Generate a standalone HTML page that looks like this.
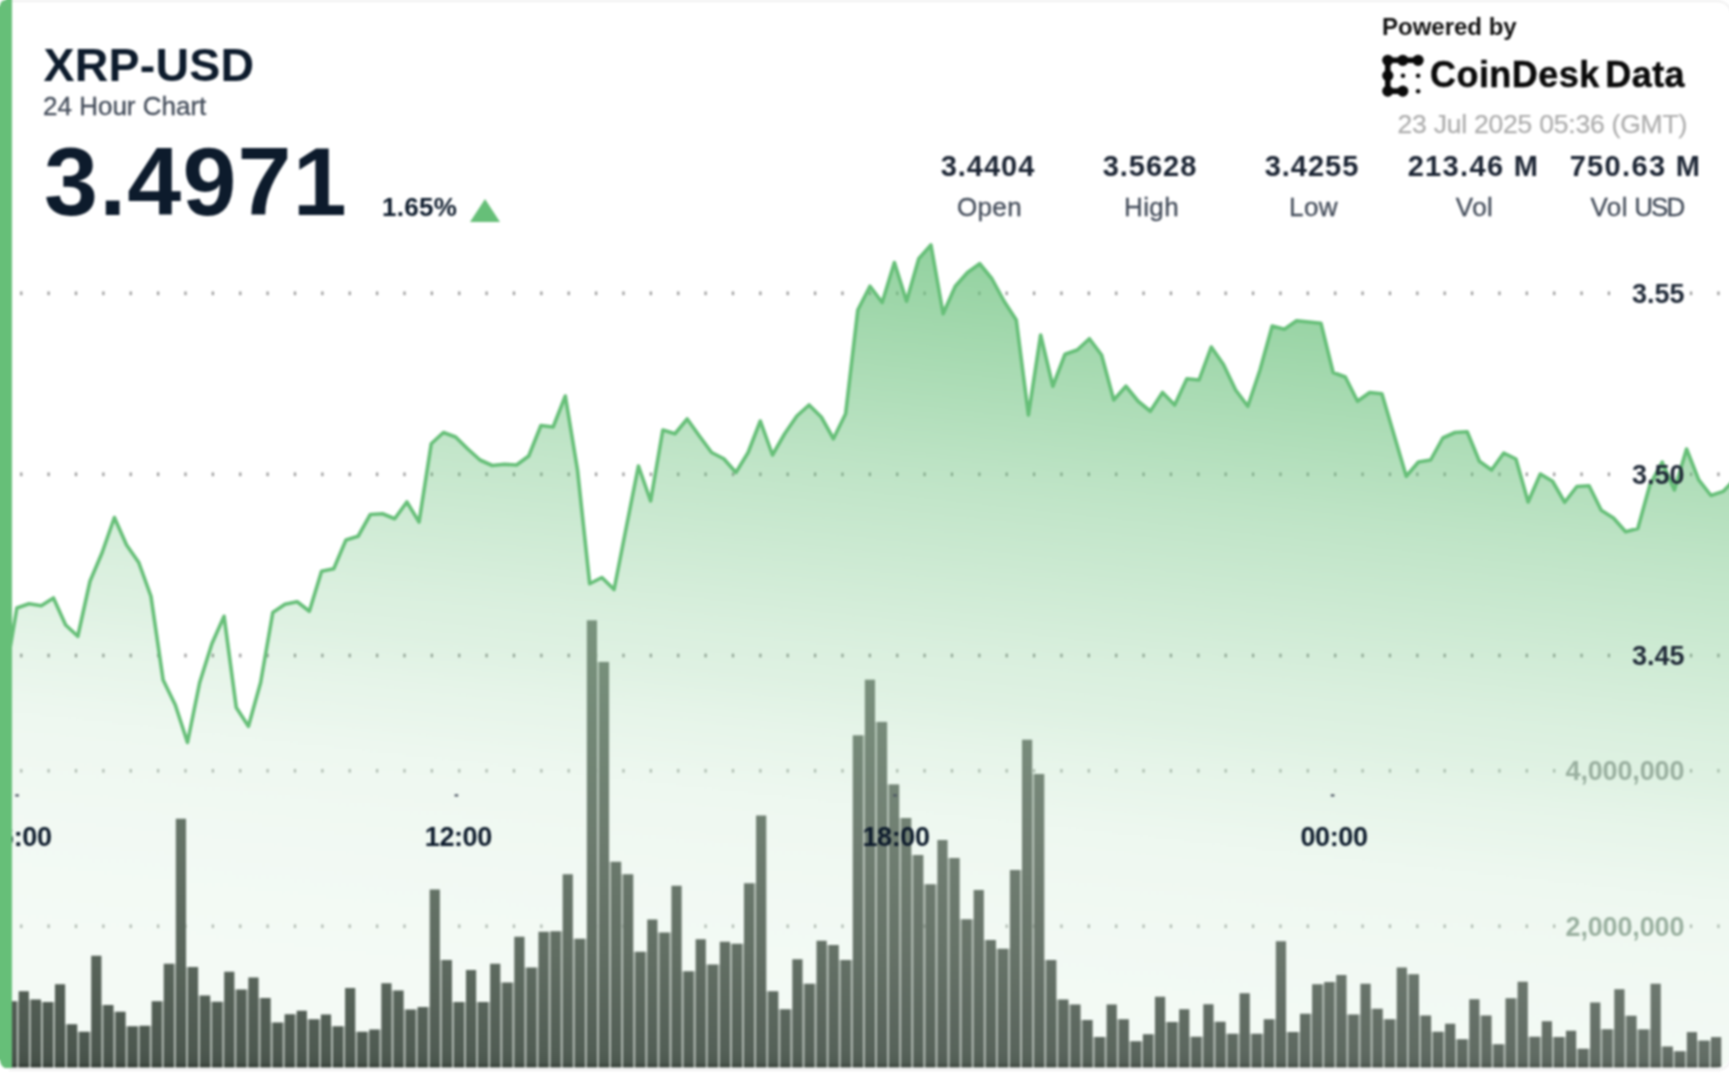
<!DOCTYPE html>
<html><head><meta charset="utf-8"><title>XRP-USD 24 Hour Chart</title>
<style>
html,body{margin:0;padding:0;background:#fff;}
body{width:1729px;height:1080px;position:relative;overflow:hidden;font-family:"Liberation Sans","DejaVu Sans",sans-serif;color:#0d1b2c;}
#wrap{position:absolute;left:0;top:0;width:1740px;height:1080px;filter:blur(1.15px);}
#card{position:absolute;left:0;top:0;width:1732px;height:1068px;border-radius:8px 15px 17px 9px;overflow:hidden;background:#fff;}
.t{position:absolute;white-space:nowrap;line-height:1;transform-origin:0 0;}
.b{font-weight:bold;}
.c{text-align:center;}
</style></head><body><div id="wrap"><div id="card">
<svg width="1745" height="1080" viewBox="0 0 1745 1080" style="position:absolute;left:0;top:0">
<defs>
<linearGradient id="ag" gradientUnits="userSpaceOnUse" x1="1460" y1="250" x2="1367.62" y2="1089.84">
<stop offset="0.0000" stop-color="#66bf78" stop-opacity="0.775"/>
<stop offset="0.1376" stop-color="#66bf78" stop-opacity="0.63"/>
<stop offset="0.3235" stop-color="#66bf78" stop-opacity="0.43"/>
<stop offset="0.3553" stop-color="#66bf78" stop-opacity="0.4"/>
<stop offset="0.5435" stop-color="#66bf78" stop-opacity="0.24"/>
<stop offset="0.5941" stop-color="#66bf78" stop-opacity="0.21"/>
<stop offset="0.6471" stop-color="#66bf78" stop-opacity="0.163"/>
<stop offset="0.6965" stop-color="#66bf78" stop-opacity="0.135"/>
<stop offset="0.7247" stop-color="#66bf78" stop-opacity="0.115"/>
<stop offset="0.7553" stop-color="#66bf78" stop-opacity="0.105"/>
<stop offset="0.8612" stop-color="#66bf78" stop-opacity="0.085"/>
<stop offset="1.0000" stop-color="#66bf78" stop-opacity="0.07"/>
</linearGradient>
<linearGradient id="bg" gradientUnits="userSpaceOnUse" x1="0" y1="620" x2="0" y2="1067.5">
<stop offset="0.0000" stop-color="rgb(122,148,126)"/>
<stop offset="0.2793" stop-color="rgb(114,134,117)"/>
<stop offset="0.4961" stop-color="rgb(108,123,110)"/>
<stop offset="0.7419" stop-color="rgb(97,110,99)"/>
<stop offset="0.9609" stop-color="rgb(82,94,85)"/>
<stop offset="0.9899" stop-color="rgb(76,88,79)"/>
<stop offset="0.9944" stop-color="rgb(62,72,64)"/>
<stop offset="1.0000" stop-color="rgb(62,72,64)"/>
</linearGradient>
<linearGradient id="hg" gradientUnits="userSpaceOnUse" x1="0" y1="0" x2="1729" y2="0">
<stop offset="0" stop-color="#000" stop-opacity="0.10"/>
<stop offset="0.347" stop-color="#000" stop-opacity="0"/>
<stop offset="0.347" stop-color="#fff" stop-opacity="0"/>
<stop offset="1" stop-color="#fff" stop-opacity="0.11"/>
</linearGradient>
</defs>
<g fill="#969696"><rect x="20.15" y="291.50" width="2.2" height="3.6"/><rect x="47.52" y="291.50" width="2.2" height="3.6"/><rect x="74.90" y="291.50" width="2.2" height="3.6"/><rect x="102.27" y="291.50" width="2.2" height="3.6"/><rect x="129.65" y="291.50" width="2.2" height="3.6"/><rect x="157.02" y="291.50" width="2.2" height="3.6"/><rect x="184.39" y="291.50" width="2.2" height="3.6"/><rect x="211.77" y="291.50" width="2.2" height="3.6"/><rect x="239.14" y="291.50" width="2.2" height="3.6"/><rect x="266.52" y="291.50" width="2.2" height="3.6"/><rect x="293.89" y="291.50" width="2.2" height="3.6"/><rect x="321.26" y="291.50" width="2.2" height="3.6"/><rect x="348.64" y="291.50" width="2.2" height="3.6"/><rect x="376.01" y="291.50" width="2.2" height="3.6"/><rect x="403.39" y="291.50" width="2.2" height="3.6"/><rect x="430.76" y="291.50" width="2.2" height="3.6"/><rect x="458.13" y="291.50" width="2.2" height="3.6"/><rect x="485.51" y="291.50" width="2.2" height="3.6"/><rect x="512.88" y="291.50" width="2.2" height="3.6"/><rect x="540.26" y="291.50" width="2.2" height="3.6"/><rect x="567.63" y="291.50" width="2.2" height="3.6"/><rect x="595.00" y="291.50" width="2.2" height="3.6"/><rect x="622.38" y="291.50" width="2.2" height="3.6"/><rect x="649.75" y="291.50" width="2.2" height="3.6"/><rect x="677.13" y="291.50" width="2.2" height="3.6"/><rect x="704.50" y="291.50" width="2.2" height="3.6"/><rect x="731.87" y="291.50" width="2.2" height="3.6"/><rect x="759.25" y="291.50" width="2.2" height="3.6"/><rect x="786.62" y="291.50" width="2.2" height="3.6"/><rect x="814.00" y="291.50" width="2.2" height="3.6"/><rect x="841.37" y="291.50" width="2.2" height="3.6"/><rect x="868.74" y="291.50" width="2.2" height="3.6"/><rect x="896.12" y="291.50" width="2.2" height="3.6"/><rect x="923.49" y="291.50" width="2.2" height="3.6"/><rect x="950.87" y="291.50" width="2.2" height="3.6"/><rect x="978.24" y="291.50" width="2.2" height="3.6"/><rect x="1005.61" y="291.50" width="2.2" height="3.6"/><rect x="1032.99" y="291.50" width="2.2" height="3.6"/><rect x="1060.36" y="291.50" width="2.2" height="3.6"/><rect x="1087.74" y="291.50" width="2.2" height="3.6"/><rect x="1115.11" y="291.50" width="2.2" height="3.6"/><rect x="1142.48" y="291.50" width="2.2" height="3.6"/><rect x="1169.86" y="291.50" width="2.2" height="3.6"/><rect x="1197.23" y="291.50" width="2.2" height="3.6"/><rect x="1224.61" y="291.50" width="2.2" height="3.6"/><rect x="1251.98" y="291.50" width="2.2" height="3.6"/><rect x="1279.35" y="291.50" width="2.2" height="3.6"/><rect x="1306.73" y="291.50" width="2.2" height="3.6"/><rect x="1334.10" y="291.50" width="2.2" height="3.6"/><rect x="1361.48" y="291.50" width="2.2" height="3.6"/><rect x="1388.85" y="291.50" width="2.2" height="3.6"/><rect x="1416.22" y="291.50" width="2.2" height="3.6"/><rect x="1443.60" y="291.50" width="2.2" height="3.6"/><rect x="1470.97" y="291.50" width="2.2" height="3.6"/><rect x="1498.35" y="291.50" width="2.2" height="3.6"/><rect x="1525.72" y="291.50" width="2.2" height="3.6"/><rect x="1553.09" y="291.50" width="2.2" height="3.6"/><rect x="1580.47" y="291.50" width="2.2" height="3.6"/><rect x="1607.84" y="291.50" width="2.2" height="3.6"/><rect x="1689.96" y="291.50" width="2.2" height="3.6"/><rect x="1717.34" y="291.50" width="2.2" height="3.6"/><rect x="20.15" y="472.50" width="2.2" height="3.6"/><rect x="47.52" y="472.50" width="2.2" height="3.6"/><rect x="74.90" y="472.50" width="2.2" height="3.6"/><rect x="102.27" y="472.50" width="2.2" height="3.6"/><rect x="129.65" y="472.50" width="2.2" height="3.6"/><rect x="157.02" y="472.50" width="2.2" height="3.6"/><rect x="184.39" y="472.50" width="2.2" height="3.6"/><rect x="211.77" y="472.50" width="2.2" height="3.6"/><rect x="239.14" y="472.50" width="2.2" height="3.6"/><rect x="266.52" y="472.50" width="2.2" height="3.6"/><rect x="293.89" y="472.50" width="2.2" height="3.6"/><rect x="321.26" y="472.50" width="2.2" height="3.6"/><rect x="348.64" y="472.50" width="2.2" height="3.6"/><rect x="376.01" y="472.50" width="2.2" height="3.6"/><rect x="403.39" y="472.50" width="2.2" height="3.6"/><rect x="430.76" y="472.50" width="2.2" height="3.6"/><rect x="458.13" y="472.50" width="2.2" height="3.6"/><rect x="485.51" y="472.50" width="2.2" height="3.6"/><rect x="512.88" y="472.50" width="2.2" height="3.6"/><rect x="540.26" y="472.50" width="2.2" height="3.6"/><rect x="567.63" y="472.50" width="2.2" height="3.6"/><rect x="595.00" y="472.50" width="2.2" height="3.6"/><rect x="622.38" y="472.50" width="2.2" height="3.6"/><rect x="649.75" y="472.50" width="2.2" height="3.6"/><rect x="677.13" y="472.50" width="2.2" height="3.6"/><rect x="704.50" y="472.50" width="2.2" height="3.6"/><rect x="731.87" y="472.50" width="2.2" height="3.6"/><rect x="759.25" y="472.50" width="2.2" height="3.6"/><rect x="786.62" y="472.50" width="2.2" height="3.6"/><rect x="814.00" y="472.50" width="2.2" height="3.6"/><rect x="841.37" y="472.50" width="2.2" height="3.6"/><rect x="868.74" y="472.50" width="2.2" height="3.6"/><rect x="896.12" y="472.50" width="2.2" height="3.6"/><rect x="923.49" y="472.50" width="2.2" height="3.6"/><rect x="950.87" y="472.50" width="2.2" height="3.6"/><rect x="978.24" y="472.50" width="2.2" height="3.6"/><rect x="1005.61" y="472.50" width="2.2" height="3.6"/><rect x="1032.99" y="472.50" width="2.2" height="3.6"/><rect x="1060.36" y="472.50" width="2.2" height="3.6"/><rect x="1087.74" y="472.50" width="2.2" height="3.6"/><rect x="1115.11" y="472.50" width="2.2" height="3.6"/><rect x="1142.48" y="472.50" width="2.2" height="3.6"/><rect x="1169.86" y="472.50" width="2.2" height="3.6"/><rect x="1197.23" y="472.50" width="2.2" height="3.6"/><rect x="1224.61" y="472.50" width="2.2" height="3.6"/><rect x="1251.98" y="472.50" width="2.2" height="3.6"/><rect x="1279.35" y="472.50" width="2.2" height="3.6"/><rect x="1306.73" y="472.50" width="2.2" height="3.6"/><rect x="1334.10" y="472.50" width="2.2" height="3.6"/><rect x="1361.48" y="472.50" width="2.2" height="3.6"/><rect x="1388.85" y="472.50" width="2.2" height="3.6"/><rect x="1416.22" y="472.50" width="2.2" height="3.6"/><rect x="1443.60" y="472.50" width="2.2" height="3.6"/><rect x="1470.97" y="472.50" width="2.2" height="3.6"/><rect x="1498.35" y="472.50" width="2.2" height="3.6"/><rect x="1525.72" y="472.50" width="2.2" height="3.6"/><rect x="1553.09" y="472.50" width="2.2" height="3.6"/><rect x="1580.47" y="472.50" width="2.2" height="3.6"/><rect x="1607.84" y="472.50" width="2.2" height="3.6"/><rect x="1689.96" y="472.50" width="2.2" height="3.6"/><rect x="1717.34" y="472.50" width="2.2" height="3.6"/><rect x="20.15" y="653.70" width="2.2" height="3.6"/><rect x="47.52" y="653.70" width="2.2" height="3.6"/><rect x="74.90" y="653.70" width="2.2" height="3.6"/><rect x="102.27" y="653.70" width="2.2" height="3.6"/><rect x="129.65" y="653.70" width="2.2" height="3.6"/><rect x="157.02" y="653.70" width="2.2" height="3.6"/><rect x="184.39" y="653.70" width="2.2" height="3.6"/><rect x="211.77" y="653.70" width="2.2" height="3.6"/><rect x="239.14" y="653.70" width="2.2" height="3.6"/><rect x="266.52" y="653.70" width="2.2" height="3.6"/><rect x="293.89" y="653.70" width="2.2" height="3.6"/><rect x="321.26" y="653.70" width="2.2" height="3.6"/><rect x="348.64" y="653.70" width="2.2" height="3.6"/><rect x="376.01" y="653.70" width="2.2" height="3.6"/><rect x="403.39" y="653.70" width="2.2" height="3.6"/><rect x="430.76" y="653.70" width="2.2" height="3.6"/><rect x="458.13" y="653.70" width="2.2" height="3.6"/><rect x="485.51" y="653.70" width="2.2" height="3.6"/><rect x="512.88" y="653.70" width="2.2" height="3.6"/><rect x="540.26" y="653.70" width="2.2" height="3.6"/><rect x="567.63" y="653.70" width="2.2" height="3.6"/><rect x="595.00" y="653.70" width="2.2" height="3.6"/><rect x="622.38" y="653.70" width="2.2" height="3.6"/><rect x="649.75" y="653.70" width="2.2" height="3.6"/><rect x="677.13" y="653.70" width="2.2" height="3.6"/><rect x="704.50" y="653.70" width="2.2" height="3.6"/><rect x="731.87" y="653.70" width="2.2" height="3.6"/><rect x="759.25" y="653.70" width="2.2" height="3.6"/><rect x="786.62" y="653.70" width="2.2" height="3.6"/><rect x="814.00" y="653.70" width="2.2" height="3.6"/><rect x="841.37" y="653.70" width="2.2" height="3.6"/><rect x="868.74" y="653.70" width="2.2" height="3.6"/><rect x="896.12" y="653.70" width="2.2" height="3.6"/><rect x="923.49" y="653.70" width="2.2" height="3.6"/><rect x="950.87" y="653.70" width="2.2" height="3.6"/><rect x="978.24" y="653.70" width="2.2" height="3.6"/><rect x="1005.61" y="653.70" width="2.2" height="3.6"/><rect x="1032.99" y="653.70" width="2.2" height="3.6"/><rect x="1060.36" y="653.70" width="2.2" height="3.6"/><rect x="1087.74" y="653.70" width="2.2" height="3.6"/><rect x="1115.11" y="653.70" width="2.2" height="3.6"/><rect x="1142.48" y="653.70" width="2.2" height="3.6"/><rect x="1169.86" y="653.70" width="2.2" height="3.6"/><rect x="1197.23" y="653.70" width="2.2" height="3.6"/><rect x="1224.61" y="653.70" width="2.2" height="3.6"/><rect x="1251.98" y="653.70" width="2.2" height="3.6"/><rect x="1279.35" y="653.70" width="2.2" height="3.6"/><rect x="1306.73" y="653.70" width="2.2" height="3.6"/><rect x="1334.10" y="653.70" width="2.2" height="3.6"/><rect x="1361.48" y="653.70" width="2.2" height="3.6"/><rect x="1388.85" y="653.70" width="2.2" height="3.6"/><rect x="1416.22" y="653.70" width="2.2" height="3.6"/><rect x="1443.60" y="653.70" width="2.2" height="3.6"/><rect x="1470.97" y="653.70" width="2.2" height="3.6"/><rect x="1498.35" y="653.70" width="2.2" height="3.6"/><rect x="1525.72" y="653.70" width="2.2" height="3.6"/><rect x="1553.09" y="653.70" width="2.2" height="3.6"/><rect x="1580.47" y="653.70" width="2.2" height="3.6"/><rect x="1607.84" y="653.70" width="2.2" height="3.6"/><rect x="1689.96" y="653.70" width="2.2" height="3.6"/><rect x="1717.34" y="653.70" width="2.2" height="3.6"/></g><g fill="#b4b8b4"><rect x="20.15" y="769.00" width="2.2" height="3.6"/><rect x="47.52" y="769.00" width="2.2" height="3.6"/><rect x="74.90" y="769.00" width="2.2" height="3.6"/><rect x="102.27" y="769.00" width="2.2" height="3.6"/><rect x="129.65" y="769.00" width="2.2" height="3.6"/><rect x="157.02" y="769.00" width="2.2" height="3.6"/><rect x="184.39" y="769.00" width="2.2" height="3.6"/><rect x="211.77" y="769.00" width="2.2" height="3.6"/><rect x="239.14" y="769.00" width="2.2" height="3.6"/><rect x="266.52" y="769.00" width="2.2" height="3.6"/><rect x="293.89" y="769.00" width="2.2" height="3.6"/><rect x="321.26" y="769.00" width="2.2" height="3.6"/><rect x="348.64" y="769.00" width="2.2" height="3.6"/><rect x="376.01" y="769.00" width="2.2" height="3.6"/><rect x="403.39" y="769.00" width="2.2" height="3.6"/><rect x="430.76" y="769.00" width="2.2" height="3.6"/><rect x="458.13" y="769.00" width="2.2" height="3.6"/><rect x="485.51" y="769.00" width="2.2" height="3.6"/><rect x="512.88" y="769.00" width="2.2" height="3.6"/><rect x="540.26" y="769.00" width="2.2" height="3.6"/><rect x="567.63" y="769.00" width="2.2" height="3.6"/><rect x="595.00" y="769.00" width="2.2" height="3.6"/><rect x="622.38" y="769.00" width="2.2" height="3.6"/><rect x="649.75" y="769.00" width="2.2" height="3.6"/><rect x="677.13" y="769.00" width="2.2" height="3.6"/><rect x="704.50" y="769.00" width="2.2" height="3.6"/><rect x="731.87" y="769.00" width="2.2" height="3.6"/><rect x="759.25" y="769.00" width="2.2" height="3.6"/><rect x="786.62" y="769.00" width="2.2" height="3.6"/><rect x="814.00" y="769.00" width="2.2" height="3.6"/><rect x="841.37" y="769.00" width="2.2" height="3.6"/><rect x="868.74" y="769.00" width="2.2" height="3.6"/><rect x="896.12" y="769.00" width="2.2" height="3.6"/><rect x="923.49" y="769.00" width="2.2" height="3.6"/><rect x="950.87" y="769.00" width="2.2" height="3.6"/><rect x="978.24" y="769.00" width="2.2" height="3.6"/><rect x="1005.61" y="769.00" width="2.2" height="3.6"/><rect x="1032.99" y="769.00" width="2.2" height="3.6"/><rect x="1060.36" y="769.00" width="2.2" height="3.6"/><rect x="1087.74" y="769.00" width="2.2" height="3.6"/><rect x="1115.11" y="769.00" width="2.2" height="3.6"/><rect x="1142.48" y="769.00" width="2.2" height="3.6"/><rect x="1169.86" y="769.00" width="2.2" height="3.6"/><rect x="1197.23" y="769.00" width="2.2" height="3.6"/><rect x="1224.61" y="769.00" width="2.2" height="3.6"/><rect x="1251.98" y="769.00" width="2.2" height="3.6"/><rect x="1279.35" y="769.00" width="2.2" height="3.6"/><rect x="1306.73" y="769.00" width="2.2" height="3.6"/><rect x="1334.10" y="769.00" width="2.2" height="3.6"/><rect x="1361.48" y="769.00" width="2.2" height="3.6"/><rect x="1388.85" y="769.00" width="2.2" height="3.6"/><rect x="1416.22" y="769.00" width="2.2" height="3.6"/><rect x="1443.60" y="769.00" width="2.2" height="3.6"/><rect x="1470.97" y="769.00" width="2.2" height="3.6"/><rect x="1498.35" y="769.00" width="2.2" height="3.6"/><rect x="1525.72" y="769.00" width="2.2" height="3.6"/><rect x="1553.09" y="769.00" width="2.2" height="3.6"/><rect x="1689.96" y="769.00" width="2.2" height="3.6"/><rect x="1717.34" y="769.00" width="2.2" height="3.6"/><rect x="20.15" y="924.40" width="2.2" height="3.6"/><rect x="47.52" y="924.40" width="2.2" height="3.6"/><rect x="74.90" y="924.40" width="2.2" height="3.6"/><rect x="102.27" y="924.40" width="2.2" height="3.6"/><rect x="129.65" y="924.40" width="2.2" height="3.6"/><rect x="157.02" y="924.40" width="2.2" height="3.6"/><rect x="184.39" y="924.40" width="2.2" height="3.6"/><rect x="211.77" y="924.40" width="2.2" height="3.6"/><rect x="239.14" y="924.40" width="2.2" height="3.6"/><rect x="266.52" y="924.40" width="2.2" height="3.6"/><rect x="293.89" y="924.40" width="2.2" height="3.6"/><rect x="321.26" y="924.40" width="2.2" height="3.6"/><rect x="348.64" y="924.40" width="2.2" height="3.6"/><rect x="376.01" y="924.40" width="2.2" height="3.6"/><rect x="403.39" y="924.40" width="2.2" height="3.6"/><rect x="430.76" y="924.40" width="2.2" height="3.6"/><rect x="458.13" y="924.40" width="2.2" height="3.6"/><rect x="485.51" y="924.40" width="2.2" height="3.6"/><rect x="512.88" y="924.40" width="2.2" height="3.6"/><rect x="540.26" y="924.40" width="2.2" height="3.6"/><rect x="567.63" y="924.40" width="2.2" height="3.6"/><rect x="595.00" y="924.40" width="2.2" height="3.6"/><rect x="622.38" y="924.40" width="2.2" height="3.6"/><rect x="649.75" y="924.40" width="2.2" height="3.6"/><rect x="677.13" y="924.40" width="2.2" height="3.6"/><rect x="704.50" y="924.40" width="2.2" height="3.6"/><rect x="731.87" y="924.40" width="2.2" height="3.6"/><rect x="759.25" y="924.40" width="2.2" height="3.6"/><rect x="786.62" y="924.40" width="2.2" height="3.6"/><rect x="814.00" y="924.40" width="2.2" height="3.6"/><rect x="841.37" y="924.40" width="2.2" height="3.6"/><rect x="868.74" y="924.40" width="2.2" height="3.6"/><rect x="896.12" y="924.40" width="2.2" height="3.6"/><rect x="923.49" y="924.40" width="2.2" height="3.6"/><rect x="950.87" y="924.40" width="2.2" height="3.6"/><rect x="978.24" y="924.40" width="2.2" height="3.6"/><rect x="1005.61" y="924.40" width="2.2" height="3.6"/><rect x="1032.99" y="924.40" width="2.2" height="3.6"/><rect x="1060.36" y="924.40" width="2.2" height="3.6"/><rect x="1087.74" y="924.40" width="2.2" height="3.6"/><rect x="1115.11" y="924.40" width="2.2" height="3.6"/><rect x="1142.48" y="924.40" width="2.2" height="3.6"/><rect x="1169.86" y="924.40" width="2.2" height="3.6"/><rect x="1197.23" y="924.40" width="2.2" height="3.6"/><rect x="1224.61" y="924.40" width="2.2" height="3.6"/><rect x="1251.98" y="924.40" width="2.2" height="3.6"/><rect x="1279.35" y="924.40" width="2.2" height="3.6"/><rect x="1306.73" y="924.40" width="2.2" height="3.6"/><rect x="1334.10" y="924.40" width="2.2" height="3.6"/><rect x="1361.48" y="924.40" width="2.2" height="3.6"/><rect x="1388.85" y="924.40" width="2.2" height="3.6"/><rect x="1416.22" y="924.40" width="2.2" height="3.6"/><rect x="1443.60" y="924.40" width="2.2" height="3.6"/><rect x="1470.97" y="924.40" width="2.2" height="3.6"/><rect x="1498.35" y="924.40" width="2.2" height="3.6"/><rect x="1525.72" y="924.40" width="2.2" height="3.6"/><rect x="1553.09" y="924.40" width="2.2" height="3.6"/><rect x="1689.96" y="924.40" width="2.2" height="3.6"/><rect x="1717.34" y="924.40" width="2.2" height="3.6"/></g>
<path d="M4.69,680.00 L16.88,608.00 L29.07,603.75 L41.25,605.75 L53.44,598.00 L65.63,625.00 L77.81,636.25 L90.00,581.25 L102.19,552.50 L114.38,517.50 L126.56,545.00 L138.75,562.50 L150.94,596.25 L163.13,680.00 L175.31,705.00 L187.50,742.50 L199.69,682.50 L211.88,643.75 L224.06,616.25 L236.25,707.50 L248.44,726.25 L260.63,682.50 L272.81,612.50 L285.00,604.25 L297.19,601.75 L309.38,611.25 L321.56,571.25 L333.75,568.75 L345.94,540.00 L358.13,536.25 L370.31,514.50 L382.50,513.75 L394.69,518.75 L406.88,502.00 L419.06,522.00 L431.25,443.75 L443.44,432.50 L455.63,437.00 L467.81,449.00 L480.00,460.00 L492.19,465.50 L504.38,464.25 L516.57,465.00 L528.75,456.00 L540.94,425.50 L553.13,427.00 L565.32,396.00 L577.50,470.00 L589.69,583.75 L601.88,577.50 L614.07,589.50 L626.25,527.50 L638.44,466.00 L650.63,501.00 L662.82,430.00 L675.00,433.75 L687.19,419.00 L699.38,436.00 L711.57,452.50 L723.75,458.75 L735.94,472.50 L748.13,452.50 L760.32,421.00 L772.50,455.00 L784.69,433.75 L796.88,416.00 L809.07,405.00 L821.25,417.00 L833.44,438.75 L845.63,413.75 L857.82,310.00 L870.00,286.25 L882.19,302.50 L894.38,262.50 L906.57,301.25 L918.75,258.75 L930.94,245.00 L943.13,313.75 L955.32,286.25 L967.50,272.50 L979.69,263.75 L991.88,278.75 L1004.07,301.25 L1016.25,320.00 L1028.44,415.00 L1040.63,335.00 L1052.82,386.25 L1065.00,354.25 L1077.19,350.00 L1089.38,338.75 L1101.57,355.00 L1113.75,400.00 L1125.94,386.25 L1138.13,401.25 L1150.32,411.25 L1162.50,392.50 L1174.69,405.00 L1186.88,378.75 L1199.07,380.00 L1211.25,347.00 L1223.44,364.50 L1235.63,390.00 L1247.82,406.25 L1260.00,370.00 L1272.19,326.00 L1284.38,329.30 L1296.57,320.80 L1308.75,322.00 L1320.94,323.30 L1333.13,372.50 L1345.32,377.00 L1357.50,401.25 L1369.69,392.50 L1381.88,393.75 L1394.07,435.00 L1406.25,476.25 L1418.44,462.00 L1430.63,460.00 L1442.82,438.00 L1455.00,432.50 L1467.19,431.75 L1479.38,461.25 L1491.57,470.00 L1503.75,453.00 L1515.94,459.00 L1528.13,502.00 L1540.32,474.00 L1552.50,481.25 L1564.69,502.25 L1576.88,486.50 L1589.07,485.70 L1601.25,510.30 L1613.44,518.00 L1625.63,531.80 L1637.82,528.50 L1650.00,484.50 L1662.19,462.20 L1674.38,490.00 L1686.57,449.00 L1698.75,479.80 L1710.94,495.50 L1723.13,491.40 L1735.32,479.00 L1747.51,476.00 L1747.51,1067.5 L4.69,1067.5 Z" fill="url(#ag)"/>
<path d="M4.69,680.00 L16.88,608.00 L29.07,603.75 L41.25,605.75 L53.44,598.00 L65.63,625.00 L77.81,636.25 L90.00,581.25 L102.19,552.50 L114.38,517.50 L126.56,545.00 L138.75,562.50 L150.94,596.25 L163.13,680.00 L175.31,705.00 L187.50,742.50 L199.69,682.50 L211.88,643.75 L224.06,616.25 L236.25,707.50 L248.44,726.25 L260.63,682.50 L272.81,612.50 L285.00,604.25 L297.19,601.75 L309.38,611.25 L321.56,571.25 L333.75,568.75 L345.94,540.00 L358.13,536.25 L370.31,514.50 L382.50,513.75 L394.69,518.75 L406.88,502.00 L419.06,522.00 L431.25,443.75 L443.44,432.50 L455.63,437.00 L467.81,449.00 L480.00,460.00 L492.19,465.50 L504.38,464.25 L516.57,465.00 L528.75,456.00 L540.94,425.50 L553.13,427.00 L565.32,396.00 L577.50,470.00 L589.69,583.75 L601.88,577.50 L614.07,589.50 L626.25,527.50 L638.44,466.00 L650.63,501.00 L662.82,430.00 L675.00,433.75 L687.19,419.00 L699.38,436.00 L711.57,452.50 L723.75,458.75 L735.94,472.50 L748.13,452.50 L760.32,421.00 L772.50,455.00 L784.69,433.75 L796.88,416.00 L809.07,405.00 L821.25,417.00 L833.44,438.75 L845.63,413.75 L857.82,310.00 L870.00,286.25 L882.19,302.50 L894.38,262.50 L906.57,301.25 L918.75,258.75 L930.94,245.00 L943.13,313.75 L955.32,286.25 L967.50,272.50 L979.69,263.75 L991.88,278.75 L1004.07,301.25 L1016.25,320.00 L1028.44,415.00 L1040.63,335.00 L1052.82,386.25 L1065.00,354.25 L1077.19,350.00 L1089.38,338.75 L1101.57,355.00 L1113.75,400.00 L1125.94,386.25 L1138.13,401.25 L1150.32,411.25 L1162.50,392.50 L1174.69,405.00 L1186.88,378.75 L1199.07,380.00 L1211.25,347.00 L1223.44,364.50 L1235.63,390.00 L1247.82,406.25 L1260.00,370.00 L1272.19,326.00 L1284.38,329.30 L1296.57,320.80 L1308.75,322.00 L1320.94,323.30 L1333.13,372.50 L1345.32,377.00 L1357.50,401.25 L1369.69,392.50 L1381.88,393.75 L1394.07,435.00 L1406.25,476.25 L1418.44,462.00 L1430.63,460.00 L1442.82,438.00 L1455.00,432.50 L1467.19,431.75 L1479.38,461.25 L1491.57,470.00 L1503.75,453.00 L1515.94,459.00 L1528.13,502.00 L1540.32,474.00 L1552.50,481.25 L1564.69,502.25 L1576.88,486.50 L1589.07,485.70 L1601.25,510.30 L1613.44,518.00 L1625.63,531.80 L1637.82,528.50 L1650.00,484.50 L1662.19,462.20 L1674.38,490.00 L1686.57,449.00 L1698.75,479.80 L1710.94,495.50 L1723.13,491.40 L1735.32,479.00 L1747.51,476.00" fill="none" stroke="#66bf78" stroke-width="3.6" stroke-linejoin="round"/>
<g font-family="'Liberation Sans','DejaVu Sans',sans-serif" font-weight="bold" font-size="27" text-anchor="end">
<g fill="#1f2937"><text x="1684.5" y="303">3.55</text><text x="1684.5" y="484.2">3.50</text><text x="1684.5" y="665.3">3.45</text></g>
<g fill="#9ab0a0" letter-spacing="-0.15"><text x="1684.3" y="780.3">4,000,000</text><text x="1684.3" y="936">2,000,000</text></g>
</g>
<g fill="url(#bg)" opacity="0.38"><rect x="16.50" y="1001.25" width="2.49" height="66.25"/><rect x="28.59" y="999.50" width="2.49" height="68.00"/><rect x="40.68" y="1002.00" width="2.49" height="65.50"/><rect x="52.76" y="1002.00" width="2.49" height="65.50"/><rect x="64.85" y="1024.25" width="2.49" height="43.25"/><rect x="76.94" y="1031.75" width="2.49" height="35.75"/><rect x="89.03" y="1031.75" width="2.49" height="35.75"/><rect x="101.12" y="1005.00" width="2.49" height="62.50"/><rect x="113.20" y="1011.75" width="2.49" height="55.75"/><rect x="125.29" y="1026.25" width="2.49" height="41.25"/><rect x="137.38" y="1026.25" width="2.49" height="41.25"/><rect x="149.47" y="1025.75" width="2.49" height="41.75"/><rect x="161.56" y="1001.25" width="2.49" height="66.25"/><rect x="173.64" y="963.75" width="2.49" height="103.75"/><rect x="185.73" y="967.00" width="2.49" height="100.50"/><rect x="197.82" y="995.50" width="2.49" height="72.00"/><rect x="209.91" y="1001.75" width="2.49" height="65.75"/><rect x="222.00" y="1001.75" width="2.49" height="65.75"/><rect x="234.08" y="989.50" width="2.49" height="78.00"/><rect x="246.17" y="989.50" width="2.49" height="78.00"/><rect x="258.26" y="998.00" width="2.49" height="69.50"/><rect x="270.35" y="1022.50" width="2.49" height="45.00"/><rect x="282.44" y="1022.50" width="2.49" height="45.00"/><rect x="294.52" y="1014.25" width="2.49" height="53.25"/><rect x="306.61" y="1019.25" width="2.49" height="48.25"/><rect x="318.70" y="1019.25" width="2.49" height="48.25"/><rect x="330.79" y="1026.25" width="2.49" height="41.25"/><rect x="342.88" y="1026.25" width="2.49" height="41.25"/><rect x="354.96" y="1031.75" width="2.49" height="35.75"/><rect x="367.05" y="1031.75" width="2.49" height="35.75"/><rect x="379.14" y="1029.50" width="2.49" height="38.00"/><rect x="391.23" y="990.50" width="2.49" height="77.00"/><rect x="403.32" y="1009.50" width="2.49" height="58.00"/><rect x="415.40" y="1009.50" width="2.49" height="58.00"/><rect x="427.49" y="1007.00" width="2.49" height="60.50"/><rect x="439.58" y="960.00" width="2.49" height="107.50"/><rect x="451.67" y="1002.00" width="2.49" height="65.50"/><rect x="463.76" y="1002.00" width="2.49" height="65.50"/><rect x="475.84" y="1002.00" width="2.49" height="65.50"/><rect x="487.93" y="1002.00" width="2.49" height="65.50"/><rect x="500.02" y="982.50" width="2.49" height="85.00"/><rect x="512.11" y="982.50" width="2.49" height="85.00"/><rect x="524.20" y="967.50" width="2.49" height="100.00"/><rect x="536.28" y="967.50" width="2.49" height="100.00"/><rect x="548.37" y="931.75" width="2.49" height="135.75"/><rect x="560.46" y="931.25" width="2.49" height="136.25"/><rect x="572.55" y="938.75" width="2.49" height="128.75"/><rect x="584.64" y="938.75" width="2.49" height="128.75"/><rect x="596.72" y="661.90" width="2.49" height="405.60"/><rect x="608.81" y="861.75" width="2.49" height="205.75"/><rect x="620.90" y="874.25" width="2.49" height="193.25"/><rect x="632.99" y="951.75" width="2.49" height="115.75"/><rect x="645.08" y="951.75" width="2.49" height="115.75"/><rect x="657.16" y="932.50" width="2.49" height="135.00"/><rect x="669.25" y="932.50" width="2.49" height="135.00"/><rect x="681.34" y="971.25" width="2.49" height="96.25"/><rect x="693.43" y="971.25" width="2.49" height="96.25"/><rect x="705.52" y="964.50" width="2.49" height="103.00"/><rect x="717.60" y="964.50" width="2.49" height="103.00"/><rect x="729.69" y="943.75" width="2.49" height="123.75"/><rect x="741.78" y="943.75" width="2.49" height="123.75"/><rect x="753.87" y="883.25" width="2.49" height="184.25"/><rect x="765.96" y="991.25" width="2.49" height="76.25"/><rect x="778.04" y="1009.25" width="2.49" height="58.25"/><rect x="790.13" y="1009.25" width="2.49" height="58.25"/><rect x="802.22" y="983.75" width="2.49" height="83.75"/><rect x="814.31" y="983.75" width="2.49" height="83.75"/><rect x="826.40" y="945.00" width="2.49" height="122.50"/><rect x="838.48" y="960.00" width="2.49" height="107.50"/><rect x="850.57" y="960.00" width="2.49" height="107.50"/><rect x="862.66" y="735.30" width="2.49" height="332.20"/><rect x="874.75" y="721.90" width="2.49" height="345.60"/><rect x="886.84" y="784.40" width="2.49" height="283.10"/><rect x="898.92" y="818.00" width="2.49" height="249.50"/><rect x="911.01" y="855.00" width="2.49" height="212.50"/><rect x="923.10" y="884.25" width="2.49" height="183.25"/><rect x="935.19" y="884.25" width="2.49" height="183.25"/><rect x="947.28" y="858.00" width="2.49" height="209.50"/><rect x="959.36" y="919.25" width="2.49" height="148.25"/><rect x="971.45" y="919.25" width="2.49" height="148.25"/><rect x="983.54" y="940.00" width="2.49" height="127.50"/><rect x="995.63" y="948.75" width="2.49" height="118.75"/><rect x="1007.72" y="948.75" width="2.49" height="118.75"/><rect x="1019.80" y="870.00" width="2.49" height="197.50"/><rect x="1031.89" y="774.00" width="2.49" height="293.50"/><rect x="1043.98" y="960.00" width="2.49" height="107.50"/><rect x="1056.07" y="999.50" width="2.49" height="68.00"/><rect x="1068.16" y="1004.50" width="2.49" height="63.00"/><rect x="1080.24" y="1020.00" width="2.49" height="47.50"/><rect x="1092.33" y="1037.00" width="2.49" height="30.50"/><rect x="1104.42" y="1037.00" width="2.49" height="30.50"/><rect x="1116.51" y="1019.25" width="2.49" height="48.25"/><rect x="1128.60" y="1041.25" width="2.49" height="26.25"/><rect x="1140.68" y="1041.25" width="2.49" height="26.25"/><rect x="1152.77" y="1034.25" width="2.49" height="33.25"/><rect x="1164.86" y="1022.00" width="2.49" height="45.50"/><rect x="1176.95" y="1022.00" width="2.49" height="45.50"/><rect x="1189.04" y="1036.75" width="2.49" height="30.75"/><rect x="1201.12" y="1036.75" width="2.49" height="30.75"/><rect x="1213.21" y="1021.75" width="2.49" height="45.75"/><rect x="1225.30" y="1033.75" width="2.49" height="33.75"/><rect x="1237.39" y="1033.75" width="2.49" height="33.75"/><rect x="1249.48" y="1033.75" width="2.49" height="33.75"/><rect x="1261.56" y="1033.75" width="2.49" height="33.75"/><rect x="1273.65" y="1019.25" width="2.49" height="48.25"/><rect x="1285.74" y="1032.00" width="2.49" height="35.50"/><rect x="1297.83" y="1032.00" width="2.49" height="35.50"/><rect x="1309.92" y="1013.75" width="2.49" height="53.75"/><rect x="1322.00" y="984.25" width="2.49" height="83.25"/><rect x="1334.09" y="982.00" width="2.49" height="85.50"/><rect x="1346.18" y="1014.50" width="2.49" height="53.00"/><rect x="1358.27" y="1014.50" width="2.49" height="53.00"/><rect x="1370.36" y="1008.75" width="2.49" height="58.75"/><rect x="1382.44" y="1019.25" width="2.49" height="48.25"/><rect x="1394.53" y="1019.25" width="2.49" height="48.25"/><rect x="1406.62" y="974.25" width="2.49" height="93.25"/><rect x="1418.71" y="1015.50" width="2.49" height="52.00"/><rect x="1430.80" y="1031.75" width="2.49" height="35.75"/><rect x="1442.88" y="1031.75" width="2.49" height="35.75"/><rect x="1454.97" y="1039.25" width="2.49" height="28.25"/><rect x="1467.06" y="1039.25" width="2.49" height="28.25"/><rect x="1479.15" y="1015.50" width="2.49" height="52.00"/><rect x="1491.24" y="1044.25" width="2.49" height="23.25"/><rect x="1503.32" y="1044.25" width="2.49" height="23.25"/><rect x="1515.41" y="998.25" width="2.49" height="69.25"/><rect x="1527.50" y="1036.75" width="2.49" height="30.75"/><rect x="1539.59" y="1036.75" width="2.49" height="30.75"/><rect x="1551.68" y="1037.00" width="2.49" height="30.50"/><rect x="1563.76" y="1037.00" width="2.49" height="30.50"/><rect x="1575.85" y="1048.75" width="2.49" height="18.75"/><rect x="1587.94" y="1048.75" width="2.49" height="18.75"/><rect x="1600.03" y="1029.25" width="2.49" height="38.25"/><rect x="1612.12" y="1029.25" width="2.49" height="38.25"/><rect x="1624.20" y="1015.75" width="2.49" height="51.75"/><rect x="1636.29" y="1029.40" width="2.49" height="38.10"/><rect x="1648.38" y="1029.40" width="2.49" height="38.10"/><rect x="1660.47" y="1046.50" width="2.49" height="21.00"/><rect x="1672.56" y="1051.25" width="2.49" height="16.25"/><rect x="1684.64" y="1051.25" width="2.49" height="16.25"/><rect x="1696.73" y="1040.60" width="2.49" height="26.90"/><rect x="1708.82" y="1040.60" width="2.49" height="26.90"/></g><g id="bars" fill="url(#bg)"><rect x="6.60" y="1001.25" width="10.2" height="66.25"/><rect x="18.69" y="991.25" width="10.2" height="76.25"/><rect x="30.78" y="999.50" width="10.2" height="68.00"/><rect x="42.86" y="1002.00" width="10.2" height="65.50"/><rect x="54.95" y="984.25" width="10.2" height="83.25"/><rect x="67.04" y="1024.25" width="10.2" height="43.25"/><rect x="79.13" y="1031.75" width="10.2" height="35.75"/><rect x="91.22" y="955.75" width="10.2" height="111.75"/><rect x="103.30" y="1005.00" width="10.2" height="62.50"/><rect x="115.39" y="1011.75" width="10.2" height="55.75"/><rect x="127.48" y="1026.25" width="10.2" height="41.25"/><rect x="139.57" y="1025.75" width="10.2" height="41.75"/><rect x="151.66" y="1001.25" width="10.2" height="66.25"/><rect x="163.74" y="963.75" width="10.2" height="103.75"/><rect x="175.83" y="818.75" width="10.2" height="248.75"/><rect x="187.92" y="967.00" width="10.2" height="100.50"/><rect x="200.01" y="995.50" width="10.2" height="72.00"/><rect x="212.10" y="1001.75" width="10.2" height="65.75"/><rect x="224.18" y="971.75" width="10.2" height="95.75"/><rect x="236.27" y="989.50" width="10.2" height="78.00"/><rect x="248.36" y="977.50" width="10.2" height="90.00"/><rect x="260.45" y="998.00" width="10.2" height="69.50"/><rect x="272.54" y="1022.50" width="10.2" height="45.00"/><rect x="284.62" y="1014.25" width="10.2" height="53.25"/><rect x="296.71" y="1010.75" width="10.2" height="56.75"/><rect x="308.80" y="1019.25" width="10.2" height="48.25"/><rect x="320.89" y="1014.50" width="10.2" height="53.00"/><rect x="332.98" y="1026.25" width="10.2" height="41.25"/><rect x="345.06" y="988.00" width="10.2" height="79.50"/><rect x="357.15" y="1031.75" width="10.2" height="35.75"/><rect x="369.24" y="1029.50" width="10.2" height="38.00"/><rect x="381.33" y="983.25" width="10.2" height="84.25"/><rect x="393.42" y="990.50" width="10.2" height="77.00"/><rect x="405.50" y="1009.50" width="10.2" height="58.00"/><rect x="417.59" y="1007.00" width="10.2" height="60.50"/><rect x="429.68" y="889.50" width="10.2" height="178.00"/><rect x="441.77" y="960.00" width="10.2" height="107.50"/><rect x="453.86" y="1002.00" width="10.2" height="65.50"/><rect x="465.94" y="970.00" width="10.2" height="97.50"/><rect x="478.03" y="1002.00" width="10.2" height="65.50"/><rect x="490.12" y="963.75" width="10.2" height="103.75"/><rect x="502.21" y="982.50" width="10.2" height="85.00"/><rect x="514.30" y="936.75" width="10.2" height="130.75"/><rect x="526.38" y="967.50" width="10.2" height="100.00"/><rect x="538.47" y="931.75" width="10.2" height="135.75"/><rect x="550.56" y="931.25" width="10.2" height="136.25"/><rect x="562.65" y="874.25" width="10.2" height="193.25"/><rect x="574.74" y="938.75" width="10.2" height="128.75"/><rect x="586.82" y="620.30" width="10.2" height="447.20"/><rect x="598.91" y="661.90" width="10.2" height="405.60"/><rect x="611.00" y="861.75" width="10.2" height="205.75"/><rect x="623.09" y="874.25" width="10.2" height="193.25"/><rect x="635.18" y="951.75" width="10.2" height="115.75"/><rect x="647.26" y="919.50" width="10.2" height="148.00"/><rect x="659.35" y="932.50" width="10.2" height="135.00"/><rect x="671.44" y="885.75" width="10.2" height="181.75"/><rect x="683.53" y="971.25" width="10.2" height="96.25"/><rect x="695.62" y="939.25" width="10.2" height="128.25"/><rect x="707.70" y="964.50" width="10.2" height="103.00"/><rect x="719.79" y="941.75" width="10.2" height="125.75"/><rect x="731.88" y="943.75" width="10.2" height="123.75"/><rect x="743.97" y="883.25" width="10.2" height="184.25"/><rect x="756.06" y="815.50" width="10.2" height="252.00"/><rect x="768.14" y="991.25" width="10.2" height="76.25"/><rect x="780.23" y="1009.25" width="10.2" height="58.25"/><rect x="792.32" y="959.25" width="10.2" height="108.25"/><rect x="804.41" y="983.75" width="10.2" height="83.75"/><rect x="816.50" y="940.75" width="10.2" height="126.75"/><rect x="828.58" y="945.00" width="10.2" height="122.50"/><rect x="840.67" y="960.00" width="10.2" height="107.50"/><rect x="852.76" y="735.30" width="10.2" height="332.20"/><rect x="864.85" y="679.70" width="10.2" height="387.80"/><rect x="876.94" y="721.90" width="10.2" height="345.60"/><rect x="889.02" y="784.40" width="10.2" height="283.10"/><rect x="901.11" y="818.00" width="10.2" height="249.50"/><rect x="913.20" y="855.00" width="10.2" height="212.50"/><rect x="925.29" y="884.25" width="10.2" height="183.25"/><rect x="937.38" y="840.00" width="10.2" height="227.50"/><rect x="949.46" y="858.00" width="10.2" height="209.50"/><rect x="961.55" y="919.25" width="10.2" height="148.25"/><rect x="973.64" y="890.00" width="10.2" height="177.50"/><rect x="985.73" y="940.00" width="10.2" height="127.50"/><rect x="997.82" y="948.75" width="10.2" height="118.75"/><rect x="1009.90" y="870.00" width="10.2" height="197.50"/><rect x="1021.99" y="739.70" width="10.2" height="327.80"/><rect x="1034.08" y="774.00" width="10.2" height="293.50"/><rect x="1046.17" y="960.00" width="10.2" height="107.50"/><rect x="1058.26" y="999.50" width="10.2" height="68.00"/><rect x="1070.34" y="1004.50" width="10.2" height="63.00"/><rect x="1082.43" y="1020.00" width="10.2" height="47.50"/><rect x="1094.52" y="1037.00" width="10.2" height="30.50"/><rect x="1106.61" y="1004.50" width="10.2" height="63.00"/><rect x="1118.70" y="1019.25" width="10.2" height="48.25"/><rect x="1130.78" y="1041.25" width="10.2" height="26.25"/><rect x="1142.87" y="1034.25" width="10.2" height="33.25"/><rect x="1154.96" y="996.75" width="10.2" height="70.75"/><rect x="1167.05" y="1022.00" width="10.2" height="45.50"/><rect x="1179.14" y="1009.25" width="10.2" height="58.25"/><rect x="1191.22" y="1036.75" width="10.2" height="30.75"/><rect x="1203.31" y="1004.25" width="10.2" height="63.25"/><rect x="1215.40" y="1021.75" width="10.2" height="45.75"/><rect x="1227.49" y="1033.75" width="10.2" height="33.75"/><rect x="1239.58" y="993.25" width="10.2" height="74.25"/><rect x="1251.66" y="1033.75" width="10.2" height="33.75"/><rect x="1263.75" y="1019.25" width="10.2" height="48.25"/><rect x="1275.84" y="941.25" width="10.2" height="126.25"/><rect x="1287.93" y="1032.00" width="10.2" height="35.50"/><rect x="1300.02" y="1013.75" width="10.2" height="53.75"/><rect x="1312.10" y="984.25" width="10.2" height="83.25"/><rect x="1324.19" y="982.00" width="10.2" height="85.50"/><rect x="1336.28" y="975.00" width="10.2" height="92.50"/><rect x="1348.37" y="1014.50" width="10.2" height="53.00"/><rect x="1360.46" y="983.75" width="10.2" height="83.75"/><rect x="1372.54" y="1008.75" width="10.2" height="58.75"/><rect x="1384.63" y="1019.25" width="10.2" height="48.25"/><rect x="1396.72" y="967.50" width="10.2" height="100.00"/><rect x="1408.81" y="974.25" width="10.2" height="93.25"/><rect x="1420.90" y="1015.50" width="10.2" height="52.00"/><rect x="1432.98" y="1031.75" width="10.2" height="35.75"/><rect x="1445.07" y="1023.75" width="10.2" height="43.75"/><rect x="1457.16" y="1039.25" width="10.2" height="28.25"/><rect x="1469.25" y="999.25" width="10.2" height="68.25"/><rect x="1481.34" y="1015.50" width="10.2" height="52.00"/><rect x="1493.42" y="1044.25" width="10.2" height="23.25"/><rect x="1505.51" y="998.25" width="10.2" height="69.25"/><rect x="1517.60" y="981.75" width="10.2" height="85.75"/><rect x="1529.69" y="1036.75" width="10.2" height="30.75"/><rect x="1541.78" y="1021.25" width="10.2" height="46.25"/><rect x="1553.86" y="1037.00" width="10.2" height="30.50"/><rect x="1565.95" y="1030.75" width="10.2" height="36.75"/><rect x="1578.04" y="1048.75" width="10.2" height="18.75"/><rect x="1590.13" y="1002.50" width="10.2" height="65.00"/><rect x="1602.22" y="1029.25" width="10.2" height="38.25"/><rect x="1614.30" y="989.25" width="10.2" height="78.25"/><rect x="1626.39" y="1015.75" width="10.2" height="51.75"/><rect x="1638.48" y="1029.40" width="10.2" height="38.10"/><rect x="1650.57" y="983.75" width="10.2" height="83.75"/><rect x="1662.66" y="1046.50" width="10.2" height="21.00"/><rect x="1674.74" y="1051.25" width="10.2" height="16.25"/><rect x="1686.83" y="1032.10" width="10.2" height="35.40"/><rect x="1698.92" y="1040.60" width="10.2" height="26.90"/><rect x="1711.01" y="1037.10" width="10.2" height="30.40"/></g><g fill="url(#hg)"><rect x="6.60" y="1001.25" width="10.2" height="66.25"/><rect x="18.69" y="991.25" width="10.2" height="76.25"/><rect x="30.78" y="999.50" width="10.2" height="68.00"/><rect x="42.86" y="1002.00" width="10.2" height="65.50"/><rect x="54.95" y="984.25" width="10.2" height="83.25"/><rect x="67.04" y="1024.25" width="10.2" height="43.25"/><rect x="79.13" y="1031.75" width="10.2" height="35.75"/><rect x="91.22" y="955.75" width="10.2" height="111.75"/><rect x="103.30" y="1005.00" width="10.2" height="62.50"/><rect x="115.39" y="1011.75" width="10.2" height="55.75"/><rect x="127.48" y="1026.25" width="10.2" height="41.25"/><rect x="139.57" y="1025.75" width="10.2" height="41.75"/><rect x="151.66" y="1001.25" width="10.2" height="66.25"/><rect x="163.74" y="963.75" width="10.2" height="103.75"/><rect x="175.83" y="818.75" width="10.2" height="248.75"/><rect x="187.92" y="967.00" width="10.2" height="100.50"/><rect x="200.01" y="995.50" width="10.2" height="72.00"/><rect x="212.10" y="1001.75" width="10.2" height="65.75"/><rect x="224.18" y="971.75" width="10.2" height="95.75"/><rect x="236.27" y="989.50" width="10.2" height="78.00"/><rect x="248.36" y="977.50" width="10.2" height="90.00"/><rect x="260.45" y="998.00" width="10.2" height="69.50"/><rect x="272.54" y="1022.50" width="10.2" height="45.00"/><rect x="284.62" y="1014.25" width="10.2" height="53.25"/><rect x="296.71" y="1010.75" width="10.2" height="56.75"/><rect x="308.80" y="1019.25" width="10.2" height="48.25"/><rect x="320.89" y="1014.50" width="10.2" height="53.00"/><rect x="332.98" y="1026.25" width="10.2" height="41.25"/><rect x="345.06" y="988.00" width="10.2" height="79.50"/><rect x="357.15" y="1031.75" width="10.2" height="35.75"/><rect x="369.24" y="1029.50" width="10.2" height="38.00"/><rect x="381.33" y="983.25" width="10.2" height="84.25"/><rect x="393.42" y="990.50" width="10.2" height="77.00"/><rect x="405.50" y="1009.50" width="10.2" height="58.00"/><rect x="417.59" y="1007.00" width="10.2" height="60.50"/><rect x="429.68" y="889.50" width="10.2" height="178.00"/><rect x="441.77" y="960.00" width="10.2" height="107.50"/><rect x="453.86" y="1002.00" width="10.2" height="65.50"/><rect x="465.94" y="970.00" width="10.2" height="97.50"/><rect x="478.03" y="1002.00" width="10.2" height="65.50"/><rect x="490.12" y="963.75" width="10.2" height="103.75"/><rect x="502.21" y="982.50" width="10.2" height="85.00"/><rect x="514.30" y="936.75" width="10.2" height="130.75"/><rect x="526.38" y="967.50" width="10.2" height="100.00"/><rect x="538.47" y="931.75" width="10.2" height="135.75"/><rect x="550.56" y="931.25" width="10.2" height="136.25"/><rect x="562.65" y="874.25" width="10.2" height="193.25"/><rect x="574.74" y="938.75" width="10.2" height="128.75"/><rect x="586.82" y="620.30" width="10.2" height="447.20"/><rect x="598.91" y="661.90" width="10.2" height="405.60"/><rect x="611.00" y="861.75" width="10.2" height="205.75"/><rect x="623.09" y="874.25" width="10.2" height="193.25"/><rect x="635.18" y="951.75" width="10.2" height="115.75"/><rect x="647.26" y="919.50" width="10.2" height="148.00"/><rect x="659.35" y="932.50" width="10.2" height="135.00"/><rect x="671.44" y="885.75" width="10.2" height="181.75"/><rect x="683.53" y="971.25" width="10.2" height="96.25"/><rect x="695.62" y="939.25" width="10.2" height="128.25"/><rect x="707.70" y="964.50" width="10.2" height="103.00"/><rect x="719.79" y="941.75" width="10.2" height="125.75"/><rect x="731.88" y="943.75" width="10.2" height="123.75"/><rect x="743.97" y="883.25" width="10.2" height="184.25"/><rect x="756.06" y="815.50" width="10.2" height="252.00"/><rect x="768.14" y="991.25" width="10.2" height="76.25"/><rect x="780.23" y="1009.25" width="10.2" height="58.25"/><rect x="792.32" y="959.25" width="10.2" height="108.25"/><rect x="804.41" y="983.75" width="10.2" height="83.75"/><rect x="816.50" y="940.75" width="10.2" height="126.75"/><rect x="828.58" y="945.00" width="10.2" height="122.50"/><rect x="840.67" y="960.00" width="10.2" height="107.50"/><rect x="852.76" y="735.30" width="10.2" height="332.20"/><rect x="864.85" y="679.70" width="10.2" height="387.80"/><rect x="876.94" y="721.90" width="10.2" height="345.60"/><rect x="889.02" y="784.40" width="10.2" height="283.10"/><rect x="901.11" y="818.00" width="10.2" height="249.50"/><rect x="913.20" y="855.00" width="10.2" height="212.50"/><rect x="925.29" y="884.25" width="10.2" height="183.25"/><rect x="937.38" y="840.00" width="10.2" height="227.50"/><rect x="949.46" y="858.00" width="10.2" height="209.50"/><rect x="961.55" y="919.25" width="10.2" height="148.25"/><rect x="973.64" y="890.00" width="10.2" height="177.50"/><rect x="985.73" y="940.00" width="10.2" height="127.50"/><rect x="997.82" y="948.75" width="10.2" height="118.75"/><rect x="1009.90" y="870.00" width="10.2" height="197.50"/><rect x="1021.99" y="739.70" width="10.2" height="327.80"/><rect x="1034.08" y="774.00" width="10.2" height="293.50"/><rect x="1046.17" y="960.00" width="10.2" height="107.50"/><rect x="1058.26" y="999.50" width="10.2" height="68.00"/><rect x="1070.34" y="1004.50" width="10.2" height="63.00"/><rect x="1082.43" y="1020.00" width="10.2" height="47.50"/><rect x="1094.52" y="1037.00" width="10.2" height="30.50"/><rect x="1106.61" y="1004.50" width="10.2" height="63.00"/><rect x="1118.70" y="1019.25" width="10.2" height="48.25"/><rect x="1130.78" y="1041.25" width="10.2" height="26.25"/><rect x="1142.87" y="1034.25" width="10.2" height="33.25"/><rect x="1154.96" y="996.75" width="10.2" height="70.75"/><rect x="1167.05" y="1022.00" width="10.2" height="45.50"/><rect x="1179.14" y="1009.25" width="10.2" height="58.25"/><rect x="1191.22" y="1036.75" width="10.2" height="30.75"/><rect x="1203.31" y="1004.25" width="10.2" height="63.25"/><rect x="1215.40" y="1021.75" width="10.2" height="45.75"/><rect x="1227.49" y="1033.75" width="10.2" height="33.75"/><rect x="1239.58" y="993.25" width="10.2" height="74.25"/><rect x="1251.66" y="1033.75" width="10.2" height="33.75"/><rect x="1263.75" y="1019.25" width="10.2" height="48.25"/><rect x="1275.84" y="941.25" width="10.2" height="126.25"/><rect x="1287.93" y="1032.00" width="10.2" height="35.50"/><rect x="1300.02" y="1013.75" width="10.2" height="53.75"/><rect x="1312.10" y="984.25" width="10.2" height="83.25"/><rect x="1324.19" y="982.00" width="10.2" height="85.50"/><rect x="1336.28" y="975.00" width="10.2" height="92.50"/><rect x="1348.37" y="1014.50" width="10.2" height="53.00"/><rect x="1360.46" y="983.75" width="10.2" height="83.75"/><rect x="1372.54" y="1008.75" width="10.2" height="58.75"/><rect x="1384.63" y="1019.25" width="10.2" height="48.25"/><rect x="1396.72" y="967.50" width="10.2" height="100.00"/><rect x="1408.81" y="974.25" width="10.2" height="93.25"/><rect x="1420.90" y="1015.50" width="10.2" height="52.00"/><rect x="1432.98" y="1031.75" width="10.2" height="35.75"/><rect x="1445.07" y="1023.75" width="10.2" height="43.75"/><rect x="1457.16" y="1039.25" width="10.2" height="28.25"/><rect x="1469.25" y="999.25" width="10.2" height="68.25"/><rect x="1481.34" y="1015.50" width="10.2" height="52.00"/><rect x="1493.42" y="1044.25" width="10.2" height="23.25"/><rect x="1505.51" y="998.25" width="10.2" height="69.25"/><rect x="1517.60" y="981.75" width="10.2" height="85.75"/><rect x="1529.69" y="1036.75" width="10.2" height="30.75"/><rect x="1541.78" y="1021.25" width="10.2" height="46.25"/><rect x="1553.86" y="1037.00" width="10.2" height="30.50"/><rect x="1565.95" y="1030.75" width="10.2" height="36.75"/><rect x="1578.04" y="1048.75" width="10.2" height="18.75"/><rect x="1590.13" y="1002.50" width="10.2" height="65.00"/><rect x="1602.22" y="1029.25" width="10.2" height="38.25"/><rect x="1614.30" y="989.25" width="10.2" height="78.25"/><rect x="1626.39" y="1015.75" width="10.2" height="51.75"/><rect x="1638.48" y="1029.40" width="10.2" height="38.10"/><rect x="1650.57" y="983.75" width="10.2" height="83.75"/><rect x="1662.66" y="1046.50" width="10.2" height="21.00"/><rect x="1674.74" y="1051.25" width="10.2" height="16.25"/><rect x="1686.83" y="1032.10" width="10.2" height="35.40"/><rect x="1698.92" y="1040.60" width="10.2" height="26.90"/><rect x="1711.01" y="1037.10" width="10.2" height="30.40"/></g>
<g fill="#4a5361"><rect x="15.3" y="794.3" width="3.6" height="2.2"/><rect x="454.6" y="794.3" width="3.6" height="2.2"/><rect x="893.2" y="794.3" width="3.6" height="2.2"/><rect x="1330.8" y="794.3" width="3.6" height="2.2"/></g>
</svg>

<div class="t b" id="t_sym" style="left:43.5px;top:42px;font-size:46.5px;letter-spacing:0.2px;">XRP-USD</div>
<div class="t" id="t_sub" style="left:43px;top:93px;font-size:26px;color:#414a58;-webkit-text-stroke:0.3px #414a58;">24 Hour Chart</div>
<div class="t b" id="t_price" style="left:44px;top:132.5px;font-size:97px;letter-spacing:1.2px;">3.4971</div>
<div class="t b" id="t_pct" style="left:382px;top:193.5px;font-size:26px;letter-spacing:0.3px;">1.65%</div>
<div style="position:absolute;left:470.2px;top:198.8px;width:0;height:0;border-left:15.3px solid transparent;border-right:15.3px solid transparent;border-bottom:23px solid #66bf78;"></div>
<svg style="position:absolute;left:1376px;top:48px" width="56" height="56" viewBox="1376 48 56 56"><g fill="#0a0a0a" stroke="#0a0a0a" stroke-width="5.6" stroke-linecap="round" stroke-linejoin="round"><path d="M1418.1,60.3 L1387.8,60.3 L1387.8,91.1 L1402.8,91.1" fill="none"/><g stroke="none"><circle cx="1387.8" cy="60.3" r="5.6"/><circle cx="1402.8" cy="60.3" r="5.6"/><circle cx="1418.1" cy="60.3" r="5.6"/><circle cx="1387.8" cy="75.6" r="5.6"/><circle cx="1387.8" cy="91.1" r="5.6"/><circle cx="1402.8" cy="91.1" r="5.6"/><circle cx="1403" cy="75.8" r="2.3"/><circle cx="1418.1" cy="75.8" r="2.3"/><circle cx="1418.1" cy="91.3" r="2.3"/></g></g></svg>
<div class="t b" id="t_pow" style="left:1382px;top:14.5px;font-size:24px;color:#111;">Powered by</div>
<div class="t b" id="t_cd" style="left:1430px;top:56.5px;font-size:36px;color:#0a0a0a;letter-spacing:0.45px;-webkit-text-stroke:0.4px #0a0a0a;">CoinDesk<span style="margin-left:5.6px">Data</span></div>
<div class="t" id="t_date" style="left:1397.5px;top:110.5px;font-size:26.5px;color:#adadad;-webkit-text-stroke:0.25px #adadad;letter-spacing:-0.22px;">23 Jul 2025 05:36 (GMT)</div>
<div class="t b c" id="t_v1" style="left:907px;width:162px;top:152px;font-size:29px;color:#1b2433;letter-spacing:1px;">3.4404</div>
<div class="t b c" id="t_v2" style="left:1069px;width:162px;top:152px;font-size:29px;color:#1b2433;letter-spacing:1px;">3.5628</div>
<div class="t b c" id="t_v3" style="left:1231px;width:162px;top:152px;font-size:29px;color:#1b2433;letter-spacing:1px;">3.4255</div>
<div class="t b c" id="t_v4" style="left:1392.5px;width:162px;top:152px;font-size:29px;color:#1b2433;letter-spacing:1.35px;">213.46 M</div>
<div class="t b c" id="t_v5" style="left:1554.5px;width:162px;top:152px;font-size:29px;color:#1b2433;letter-spacing:1.35px;">750.63 M</div>
<div class="t c" id="t_l1" style="left:908.5px;width:162px;top:193.5px;font-size:26px;color:#414a58;-webkit-text-stroke:0.3px #414a58;letter-spacing:0.4px;">Open</div>
<div class="t c" id="t_l2" style="left:1070.5px;width:162px;top:193.5px;font-size:26px;color:#414a58;-webkit-text-stroke:0.3px #414a58;letter-spacing:0.4px;">High</div>
<div class="t c" id="t_l3" style="left:1232.5px;width:162px;top:193.5px;font-size:26px;color:#414a58;-webkit-text-stroke:0.3px #414a58;letter-spacing:0.4px;">Low</div>
<div class="t c" id="t_l4" style="left:1393.5px;width:162px;top:193.5px;font-size:26px;color:#414a58;-webkit-text-stroke:0.3px #414a58;letter-spacing:0.4px;">Vol</div>
<div class="t c" id="t_l5" style="left:1556px;width:162px;top:193.5px;font-size:26px;color:#414a58;-webkit-text-stroke:0.3px #414a58;letter-spacing:0.4px;word-spacing:-1.3px;">Vol <span style="letter-spacing:-1.9px">USD</span></div>
<div class="t b" id="t_x0" style="left:-15.5px;top:824px;font-size:27px;letter-spacing:-0.4px;">06:00</div>
<div class="t b" id="t_x1" style="left:424.8px;top:824px;font-size:27px;letter-spacing:-0.4px;">12:00</div>
<div class="t b" id="t_x2" style="left:862.5px;top:824px;font-size:27px;letter-spacing:-0.4px;">18:00</div>
<div class="t b" id="t_x3" style="left:1300.5px;top:824px;font-size:27px;letter-spacing:-0.4px;">00:00</div>

</div><div style="position:absolute;left:-6px;top:0;width:1739px;height:1070.5px;box-sizing:border-box;border:2.6px solid #f0f0f0;border-radius:16px;"></div><div style="position:absolute;left:-10px;top:-10px;width:21.5px;height:1077.5px;background:#66bf78;"></div><div style="position:absolute;left:-4px;top:-4px;width:10px;height:10px;background:radial-gradient(circle at 10px 10px, transparent 5.6px, #fff 6.6px);"></div><div style="position:absolute;left:-4px;top:1059.5px;width:13px;height:13px;background:radial-gradient(circle at 13px 0px, transparent 8.5px, #fff 9.5px);"></div></div></body></html>
